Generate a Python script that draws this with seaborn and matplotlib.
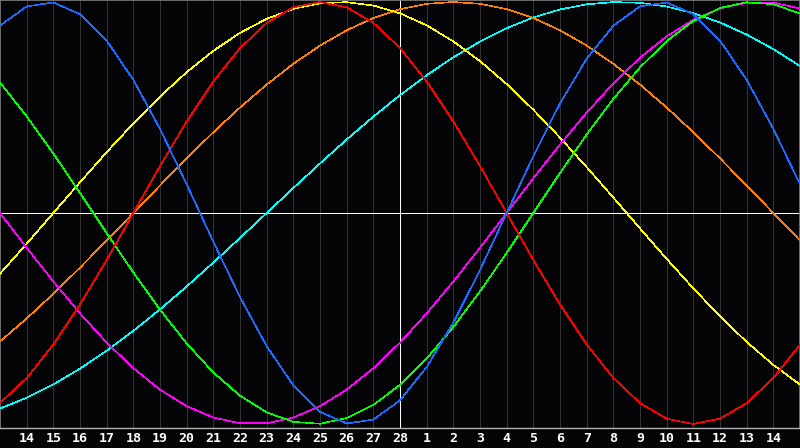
import pandas as pd
import matplotlib
matplotlib.use("Agg")
import matplotlib.pyplot as plt
import seaborn as sns

# Day labels along the bottom (Feb 14..28, Mar 1..14)
day_labels = [str(d) for d in range(14, 29)] + [str(d) for d in range(1, 15)]

# Cycle values for each day (day 0 = Feb 13 .. day 30 = Mar 15)
blue = [0.8879, 0.9791, 0.9977, 0.9423, 0.8170, 0.6311, 0.3984, 0.1362, -0.1362, -0.3984,
        -0.6311, -0.8170, -0.9423, -0.9977, -0.9791, -0.8879, -0.7308, -0.5196, -0.2698, 0.0,
        0.2698, 0.5196, 0.7308, 0.8879, 0.9791, 0.9977, 0.9423, 0.8170, 0.6311, 0.3984, 0.1362]
red = [-0.9010, -0.7818, -0.6235, -0.4339, -0.2225, 0.0, 0.2225, 0.4339, 0.6235, 0.7818,
       0.9010, 0.9749, 1.0, 0.9749, 0.9010, 0.7818, 0.6235, 0.4339, 0.2225, 0.0,
       -0.2225, -0.4339, -0.6235, -0.7818, -0.9010, -0.9749, -1.0, -0.9749, -0.9010, -0.7818, -0.6235]
green = [0.6182, 0.4582, 0.2817, 0.0951, -0.0951, -0.2817, -0.4582, -0.6182, -0.7557, -0.8660,
         -0.9450, -0.9898, -0.9989, -0.9718, -0.9096, -0.8146, -0.6901, -0.5406, -0.3717, -0.1893,
         0.0, 0.1893, 0.3717, 0.5406, 0.6901, 0.8146, 0.9096, 0.9718, 0.9989, 0.9898, 0.9450]
magenta = [0.0, -0.1646, -0.3247, -0.4759, -0.6142, -0.7357, -0.8372, -0.9158, -0.9694, -0.9966,
           -0.9966, -0.9694, -0.9158, -0.8372, -0.7357, -0.6142, -0.4759, -0.3247, -0.1646, 0.0,
           0.1646, 0.3247, 0.4759, 0.6142, 0.7357, 0.8372, 0.9158, 0.9694, 0.9966, 0.9966, 0.9694]
yellow = [-0.2881, -0.1456, 0.0, 0.1456, 0.2881, 0.4244, 0.5517, 0.6673, 0.7686, 0.8535,
          0.9203, 0.9675, 0.9940, 0.9993, 0.9834, 0.9465, 0.8894, 0.8133, 0.7199, 0.6111,
          0.4894, 0.3572, 0.2174, 0.0730, -0.0730, -0.2174, -0.3572, -0.4894, -0.6111, -0.7199, -0.8133]
orange = [-0.6088, -0.5, -0.3827, -0.2588, -0.1305, 0.0, 0.1305, 0.2588, 0.3827, 0.5,
          0.6088, 0.7071, 0.7934, 0.8660, 0.9239, 0.9659, 0.9914, 1.0, 0.9914, 0.9659,
          0.9239, 0.8660, 0.7934, 0.7071, 0.6088, 0.5, 0.3827, 0.2588, 0.1305, 0.0, -0.1305]
cyan = [-0.9267, -0.8758, -0.8126, -0.7378, -0.6528, -0.5586, -0.4566, -0.3482, -0.2349, -0.1183,
        0.0, 0.1183, 0.2349, 0.3482, 0.4566, 0.5586, 0.6528, 0.7378, 0.8126, 0.8758,
        0.9267, 0.9646, 0.9890, 0.9996, 0.9961, 0.9786, 0.9473, 0.9028, 0.8456, 0.7766, 0.6966]

series = {"cyan": cyan, "orange": orange, "yellow": yellow, "magenta": magenta,
          "green": green, "red": red, "blue": blue}
colors = {"cyan": "#00ffff", "orange": "#ff8000", "yellow": "#ffff00", "magenta": "#ff00ff",
          "green": "#00ff00", "red": "#ff0000", "blue": "#1a6bff"}

rows = []
for name, vals in series.items():
    for day, v in enumerate(vals):
        rows.append({"day": day, "value": v, "cycle": name})
df = pd.DataFrame(rows)

sns.set_style("dark")
fig = plt.figure(figsize=(8, 4.48), dpi=100, facecolor="#050508")
ax = fig.add_axes([0, 20 / 448, 1, 428 / 448])
ax.set_facecolor("#050508")

# grid
for d in range(1, 30):
    ax.axvline(d, color="#333333", linewidth=0.6, zorder=1, antialiased=False)
ax.axvline(15, color="white", linewidth=0.6, zorder=2, antialiased=False)
ax.axhline(0, color="white", linewidth=0.6, zorder=2, antialiased=False)

sns.lineplot(data=df, x="day", y="value", hue="cycle", palette=colors, estimator=None,
             legend=False, linewidth=0.45, ax=ax, zorder=3)
for line in ax.lines:
    line.set_antialiased(False)

ax.set_xlim(0, 30)
ax.set_ylim(-1.019, 1.0095)
ax.set_xticks(range(1, 30))
ax.set_xticklabels(day_labels, color="white", fontweight="bold",
                   family="DejaVu Sans Mono", fontsize=9.5)
ax.set_yticks([])
ax.tick_params(axis="x", length=0, pad=3)
ax.set_xlabel("")
ax.set_ylabel("")
ax.grid(False)
for side in ["top", "left", "right"]:
    ax.spines[side].set_visible(True)
    ax.spines[side].set_color("#808080")
    ax.spines[side].set_linewidth(1.2)
ax.spines["bottom"].set_visible(True)
ax.spines["bottom"].set_color("#b0b0b0")
ax.spines["bottom"].set_linewidth(1.0)

fig.savefig("out.png", dpi=100, facecolor=fig.get_facecolor())
